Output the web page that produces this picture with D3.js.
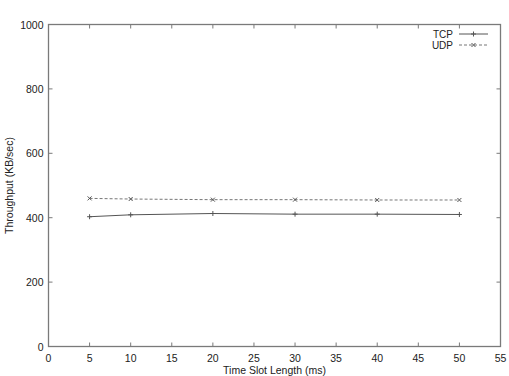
<!DOCTYPE html>
<html><head><meta charset="utf-8">
<script src="https://cdn.jsdelivr.net/npm/d3@7"></script>
<style>body{margin:0;background:#fff;} text{font-family:"Liberation Sans",Arial,sans-serif;}</style>
</head><body>
<svg id="c" width="509" height="376"></svg>
<script>
const slotLengths = [5, 10, 20, 30, 40, 50];
const tcpValues = [403, 409, 413, 411, 411, 410];
const udpValues = [460, 458, 456, 456, 455, 455];
const xTicks = [0,5,10,15,20,25,30,35,40,45,50,55];
const yTicks = [0,200,400,600,800,1000];

const svg = d3.select("#c");
const L=48.5, R=500.5, T=24.5, B=346.5;
const x = d3.scaleLinear().domain([0,55]).range([L,R]);
const y = d3.scaleLinear().domain([0,1000]).range([B,T]);
const frameColor="#7a7a7a", textColor="#222", fs=10.5;

const tg = svg.append("g").attr("stroke",frameColor).attr("stroke-width",1);
xTicks.forEach(v=>{
  tg.append("line").attr("x1",x(v)).attr("x2",x(v)).attr("y1",B).attr("y2",B-4);
  tg.append("line").attr("x1",x(v)).attr("x2",x(v)).attr("y1",T).attr("y2",T+4);
});
yTicks.forEach(v=>{
  tg.append("line").attr("x1",L).attr("x2",L+4).attr("y1",y(v)).attr("y2",y(v));
  tg.append("line").attr("x1",R).attr("x2",R-4).attr("y1",y(v)).attr("y2",y(v));
});
svg.append("rect").attr("x",L).attr("y",T).attr("width",R-L).attr("height",B-T)
  .attr("fill","none").attr("stroke",frameColor).attr("stroke-width",1.3);

svg.append("g").selectAll("text").data(xTicks).join("text")
  .attr("x",d=>x(d)).attr("y",B+15).attr("text-anchor","middle")
  .attr("font-size",fs).attr("fill",textColor).text(d=>d);
svg.append("g").selectAll("text").data(yTicks).join("text")
  .attr("x",L-5).attr("y",d=>y(d)+4).attr("text-anchor","end")
  .attr("font-size",fs).attr("fill",textColor).text(d=>d);

svg.append("text").attr("x",(L+R)/2).attr("y",374).attr("text-anchor","middle")
  .attr("font-size",fs).attr("fill",textColor).text("Time Slot Length (ms)");
svg.append("text").attr("transform","translate(13,"+((T+B)/2)+") rotate(-90)")
  .attr("text-anchor","middle").attr("font-size",fs).attr("fill",textColor).text("Throughput (KB/sec)");

const line = d3.line().x(d=>x(d[0])).y(d=>y(d[1]));
const tcp = slotLengths.map((s,i)=>[s,tcpValues[i]]);
const udp = slotLengths.map((s,i)=>[s,udpValues[i]]);
const lineColor="#555", dashColor="#777";
svg.append("path").datum(tcp).attr("d",line).attr("fill","none").attr("stroke",lineColor).attr("stroke-width",1);
svg.append("path").datum(udp).attr("d",line).attr("fill","none").attr("stroke",dashColor).attr("stroke-width",1).attr("stroke-dasharray","3,2");

function plus(g,cx,cy){g.append("path").attr("d",`M${cx-2.5},${cy}H${cx+2.5}M${cx},${cy-2.5}V${cy+2.5}`).attr("stroke",lineColor).attr("stroke-width",1);}
function cross(g,cx,cy){g.append("path").attr("d",`M${cx-2},${cy-2}L${cx+2},${cy+2}M${cx-2},${cy+2}L${cx+2},${cy-2}`).attr("stroke",lineColor).attr("stroke-width",1);}
const mg = svg.append("g");
tcp.forEach(d=>plus(mg,x(d[0]),y(d[1])));
udp.forEach(d=>cross(mg,x(d[0]),y(d[1])));

const lfs = 10;
const lg = svg.append("g");
lg.append("text").attr("x",453).attr("y",37.5).attr("text-anchor","end").attr("font-size",lfs).attr("fill",textColor).text("TCP");
lg.append("text").attr("x",453).attr("y",48.5).attr("text-anchor","end").attr("font-size",lfs).attr("fill",textColor).text("UDP");
lg.append("line").attr("x1",459).attr("x2",488).attr("y1",34).attr("y2",34).attr("stroke",lineColor);
plus(lg,473.5,34);
lg.append("line").attr("x1",459).attr("x2",488).attr("y1",45).attr("y2",45).attr("stroke",dashColor).attr("stroke-dasharray","3,2");
cross(lg,473.5,45);
</script>
</body></html>
